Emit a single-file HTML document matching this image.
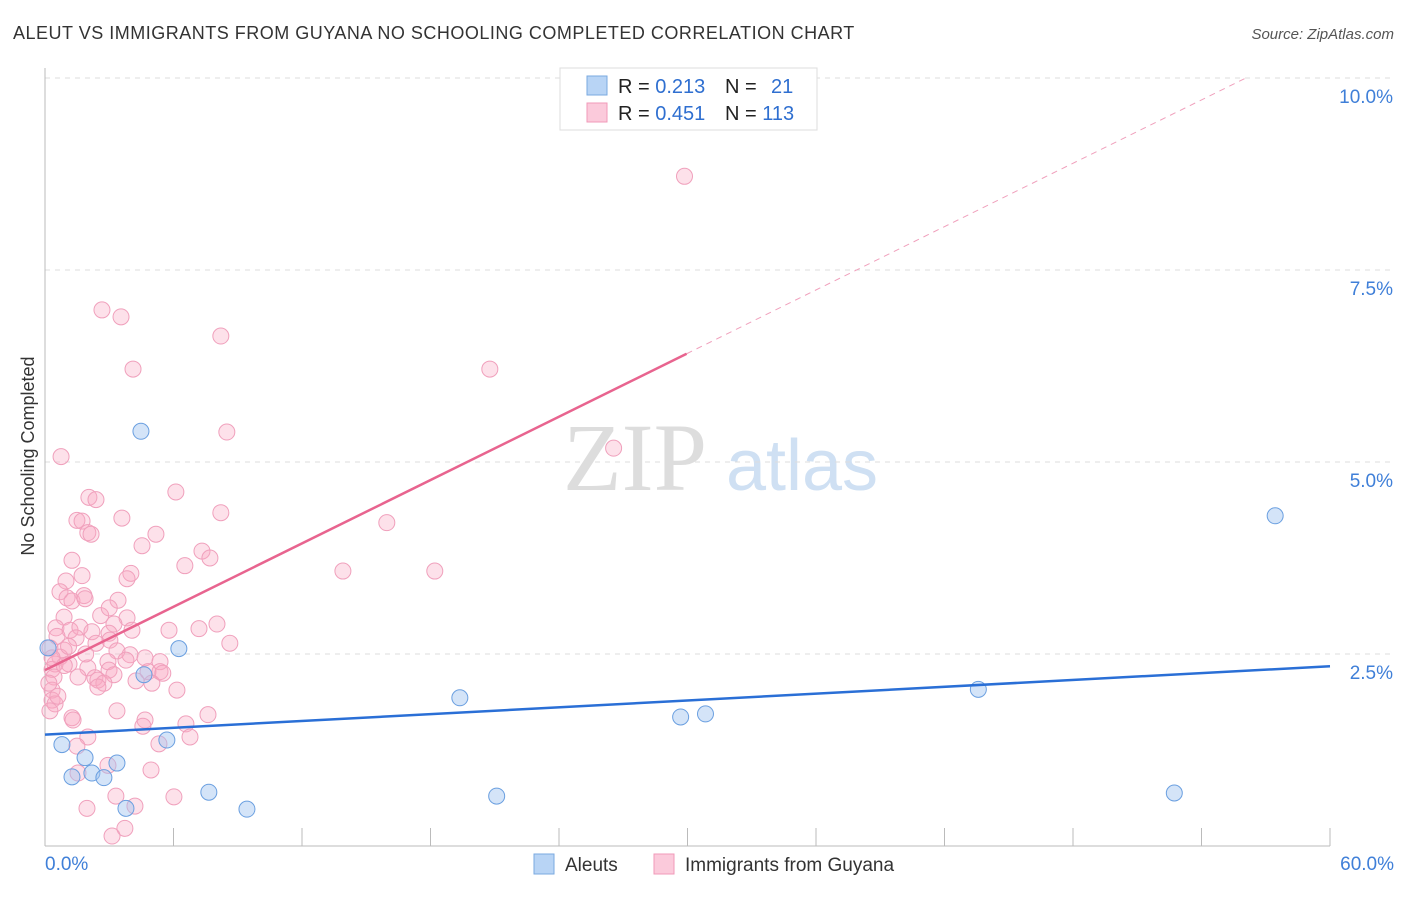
<!DOCTYPE html>
<html><head><meta charset="utf-8"><style>
body{margin:0;background:#fff;font-family:"Liberation Sans",sans-serif}
svg text{font-family:"Liberation Sans",sans-serif}
svg text.serif{font-family:"Liberation Serif",serif}
</style></head><body>
<svg id="c" width="1406" height="892" viewBox="0 0 1406 892" xmlns="http://www.w3.org/2000/svg">
<text x="13" y="39" font-size="18" fill="#333" letter-spacing="0.5">ALEUT VS IMMIGRANTS FROM GUYANA NO SCHOOLING COMPLETED CORRELATION CHART</text>
<text x="1394" y="39" font-size="15" fill="#555" font-style="italic" text-anchor="end">Source: ZipAtlas.com</text>
<text transform="translate(34,456) rotate(-90)" font-size="18" fill="#333" text-anchor="middle">No Schooling Completed</text>
<g><text class="serif" x="635" y="490" font-size="96" fill="#ddd" text-anchor="middle">ZIP</text><text x="802" y="490" font-size="72" fill="#cfe0f3" text-anchor="middle">atlas</text></g>
<g id="grid"></g><g id="axes"></g><g id="marks"></g>
<g>
<rect x="560" y="68" width="257" height="62" fill="#fff" stroke="#ddd"/>
<rect x="587" y="76" width="20" height="19" fill="#b8d4f5" stroke="#7aaae0"/>
<rect x="587" y="103" width="20" height="19" fill="#fbcadb" stroke="#f09ab8"/>
<text x="618" y="93" font-size="20" fill="#222">R = <tspan fill="#2f6fd0">0.213</tspan></text>
<text x="725" y="93" font-size="20" fill="#222">N = <tspan fill="#2f6fd0" x="771">21</tspan></text>
<text x="618" y="120" font-size="20" fill="#222">R = <tspan fill="#2f6fd0">0.451</tspan></text>
<text x="725" y="120" font-size="20" fill="#222">N = <tspan fill="#2f6fd0">113</tspan></text>
</g>
<g>
<rect x="534" y="854" width="20" height="20" fill="#b8d4f5" stroke="#7aaae0"/>
<text x="565" y="871" font-size="19" fill="#333">Aleuts</text>
<rect x="654" y="854" width="20" height="20" fill="#fbcadb" stroke="#f09ab8"/>
<text x="685" y="871" font-size="19" fill="#333">Immigrants from Guyana</text>
</g>
</svg>
<script>
const xTicks=[0,6,12,18,24,30,36,42,48,54,60];
const yTicks=[2.5,5,7.5,10];
const yTickLabels=["2.5%","5.0%","7.5%","10.0%"];
const blueX=[4.48,6.25,0.79,1.87,3.36,1.26,2.19,2.75,3.78,5.69,4.62,7.65,9.43,19.37,21.09,29.68,30.84,43.58,52.73,57.44,0.14];
const blueY=[5.40,2.57,1.32,1.15,1.08,0.90,0.95,0.89,0.49,1.38,2.23,0.70,0.48,1.93,0.65,1.68,1.72,2.04,0.69,4.30,2.58];
const pinkX=[29.86,2.66,3.55,8.21,4.11,20.77,8.49,26.55,0.75,6.11,2.05,2.38,8.21,3.59,1.49,1.73,15.96,2.0,2.15,5.18,4.53,7.33,7.70,1.26,6.53,13.91,18.2,4.01,3.83,1.73,0.98,0.7,1.03,1.26,1.82,1.87,3.41,0.89,3.83,3.22,8.03,0.51,1.17,4.06,5.79,7.19,1.63,2.19,2.99,0.56,1.45,8.63,3.03,2.38,0.23,0.89,0.7,1.12,3.97,3.36,4.67,5.37,2.94,0.47,0.33,3.78,2.99,2.0,4.81,5.37,1.54,2.33,2.47,3.22,0.42,4.25,4.99,2.75,2.47,0.33,6.16,0.33,0.47,0.23,3.36,7.61,1.26,1.31,4.67,4.57,6.58,2.0,6.77,1.49,5.32,2.94,4.95,1.54,3.31,6.02,1.96,4.2,3.73,3.13,0.33,0.18,1.1,2.6,0.6,1.9,3.0,0.9,5.5];
const pinkY=[8.72,6.98,6.89,6.64,6.21,6.21,5.39,5.18,5.07,4.61,4.54,4.51,4.34,4.27,4.24,4.23,4.21,4.08,4.06,4.06,3.91,3.84,3.75,3.72,3.65,3.58,3.58,3.55,3.48,3.52,3.45,3.31,3.23,3.19,3.26,3.22,3.20,2.98,2.97,2.89,2.89,2.84,2.81,2.81,2.81,2.83,2.85,2.79,2.77,2.73,2.71,2.64,2.68,2.64,2.58,2.55,2.46,2.37,2.49,2.54,2.45,2.40,2.40,2.37,2.30,2.42,2.29,2.32,2.27,2.27,2.20,2.19,2.16,2.23,2.20,2.15,2.12,2.12,2.07,2.03,2.03,1.90,1.85,1.76,1.76,1.71,1.67,1.64,1.64,1.56,1.59,1.42,1.42,1.30,1.33,1.05,0.99,0.95,0.65,0.64,0.49,0.52,0.23,0.13,2.45,2.12,2.6,3.0,1.95,2.5,3.1,2.35,2.25];
const blueLine=[1.45,2.34];
const pinkLine={intercept:2.29,slope:0.1375,solidEnd:29.96};
const X=v=>45+v*(1285/60), Y=v=>846-v*76.8;
const NS="http://www.w3.org/2000/svg";
function mk(parent,tag,attrs){const e=document.createElementNS(NS,tag);for(const k in attrs)e.setAttribute(k,attrs[k]);document.getElementById(parent).appendChild(e);return e;}
yTicks.forEach((t,i)=>{
 const g=mk('grid','line',{x1:45,x2:1395,y1:Y(t),y2:Y(t),stroke:'#ddd','stroke-dasharray':'5,5'});
 
 
 const l=mk('axes','text',{x:1393,y:Y(t)+25,'font-size':19,fill:'#3f7fd8','text-anchor':'end'});l.textContent=yTickLabels[i];
 
 
});
let ax=mk('axes','line',{x1:45,x2:45,y1:68,y2:846,stroke:'#bbb'});


let bx=mk('axes','line',{x1:45,x2:1330,y1:846,y2:846,stroke:'#bbb'});


xTicks.forEach(t=>{const e=mk('axes','line',{x1:X(t),x2:X(t),y1:828,y2:846,stroke:'#bbb'});
 
 });
let a=mk('axes','text',{x:45,y:870,'font-size':19,fill:'#3f7fd8'});a.textContent=xTicks[0].toFixed(1)+'%';


let b=mk('axes','text',{x:1394,y:870,'font-size':19,fill:'#3f7fd8','text-anchor':'end'});b.textContent=xTicks[xTicks.length-1].toFixed(1)+'%';


pinkX.forEach((v,i)=>{const c=mk('marks','circle',{cx:X(v),cy:Y(pinkY[i]),r:8,fill:'rgba(248,170,196,0.35)',stroke:'#f0a0bc','stroke-width':1});
 
 });
blueX.forEach((v,i)=>{const c=mk('marks','circle',{cx:X(v),cy:Y(blueY[i]),r:8,fill:'rgba(160,196,240,0.45)',stroke:'#6a9fe0','stroke-width':1});
 
 });
let bl=mk('marks','line',{x1:X(0),y1:Y(blueLine[0]),x2:X(60),y2:Y(blueLine[1]),stroke:'#2a6fd6','stroke-width':2.5});


const pf=x=>pinkLine.intercept+pinkLine.slope*x;
const pEnd=(10-pinkLine.intercept)/pinkLine.slope;
let pl=mk('marks','line',{x1:X(0),y1:Y(pf(0)),x2:X(pinkLine.solidEnd),y2:Y(pf(pinkLine.solidEnd)),stroke:'#e8648f','stroke-width':2.5});


let pd=mk('marks','line',{x1:X(pinkLine.solidEnd),y1:Y(pf(pinkLine.solidEnd)),x2:X(pEnd),y2:Y(10),stroke:'#f0a0bc','stroke-width':1,'stroke-dasharray':'6,5'});


</script>
</body></html>
